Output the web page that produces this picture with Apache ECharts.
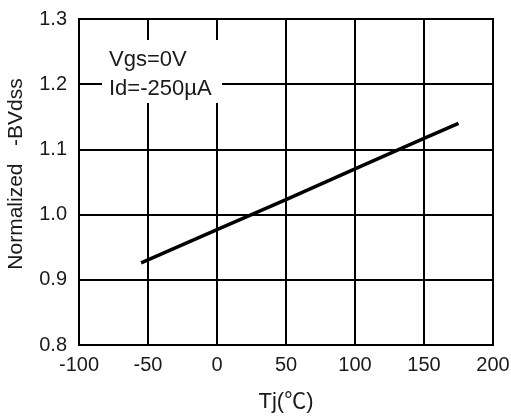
<!DOCTYPE html>
<html>
<head>
<meta charset="utf-8">
<script src="https://cdn.jsdelivr.net/npm/echarts@6/dist/echarts.min.js"></script>
<style>
  html, body { margin: 0; padding: 0; background: #fff; }
  #chart { width: 511px; height: 416px; }
</style>
</head>
<body>
<div id="chart"></div>
<script>
// 数据
const tjValues = [-55, 0, 50, 100, 150, 175]
const bvdssValues = [0.926, 0.977, 1.023, 1.070, 1.117, 1.140]
const xTicks = [-100, -50, 0, 50, 100, 150, 200]
const yTicks = [0.8, 0.9, 1.0, 1.1, 1.2, 1.3]
const noteLines = ['Vgs=0V', 'Id=-250µA']

const font = '"Liberation Sans", Arial, "Noto Sans CJK SC", sans-serif'
const lineData = tjValues.map((t, i) => [t, bvdssValues[i]])

const chart = echarts.init(document.getElementById('chart'))

const option = {
  backgroundColor: '#fff',
  animation: false,
  grid: {
    left: 79,
    right: 18,
    top: 19,
    bottom: 71,
    containLabel: false,
    outerBoundsMode: 'none',
    show: true,
    borderColor: '#000',
    borderWidth: 2
  },
  xAxis: {
    type: 'value',
    min: xTicks[0],
    max: xTicks[xTicks.length - 1],
    interval: 50,
    name: 'Tj(℃)',
    nameLocation: 'middle',
    nameGap: 46,
    nameTextStyle: { fontSize: 22, color: '#1a1a1a', fontFamily: font },
    axisLine: { lineStyle: { color: '#000', width: 2 } },
    axisTick: { show: false },
    axisLabel: { fontSize: 20, color: '#1a1a1a', fontFamily: font, margin: 10 },
    splitLine: { show: true, lineStyle: { color: '#000', width: 2 } }
  },
  yAxis: {
    type: 'value',
    min: yTicks[0],
    max: yTicks[yTicks.length - 1],
    interval: 0.1,
    name: 'Normalized   -BVdss',
    nameLocation: 'middle',
    nameGap: 52,
    nameTextStyle: {
      fontSize: 21, color: '#1a1a1a', fontFamily: font,
      padding: [0, 0, 0, 16]
    },
    axisLine: { lineStyle: { color: '#000', width: 2 } },
    axisTick: { show: false },
    axisLabel: {
      fontSize: 20, color: '#1a1a1a', fontFamily: font, margin: 12,
      formatter: v => v.toFixed(1)
    },
    splitLine: { show: true, lineStyle: { color: '#000', width: 2 } }
  },
  graphic: [
    {
      type: 'rect',
      left: 102,
      top: 40,
      shape: { width: 120, height: 63 },
      style: { fill: '#fff' },
      z: 100
    },
    {
      type: 'text',
      left: 109,
      top: 45,
      style: {
        text: noteLines.join('\n'),
        font: '22px ' + font,
        lineHeight: 29,
        fill: '#1a1a1a'
      },
      z: 101
    }
  ],
  series: [
    {
      type: 'line',
      data: lineData,
      showSymbol: false,
      lineStyle: { color: '#000', width: 3.5 },
      z: 5
    }
  ]
}

chart.setOption(option)
</script>
</body>
</html>
